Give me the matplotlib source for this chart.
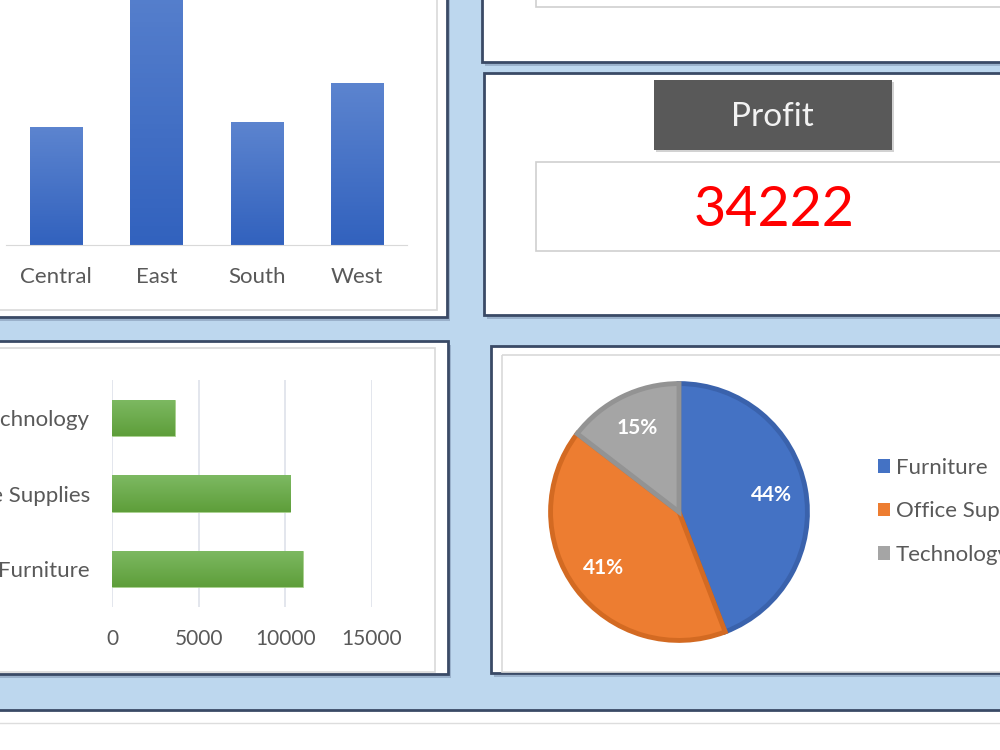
import numpy as np
import matplotlib
matplotlib.use("Agg")
import matplotlib.pyplot as plt
from matplotlib.patches import Rectangle
from matplotlib.colors import LinearSegmentedColormap

plt.rcParams['font.family'] = ['Lato', 'DejaVu Sans']

# data
regions = ["Central", "East", "South", "West"]
region_values = [4200, 10550, 4380, 5770]
categories = ["Furniture", "Office Supplies", "Technology"]
category_values = [11000, 10290, 3630]
profit_total = 34222

W, H = 1000, 750
BG = "#BDD7EE"
BORDER = "#3A4A66"
GRAY_TXT = "#595959"


def rect(x0, y0, x1, y1):
    # pixel box (top-left origin) -> figure fraction
    return [x0 / W, 1 - y1 / H, (x1 - x0) / W, (y1 - y0) / H]


def gradient_bars(ax, bars, top_color, bottom_color):
    cmap = LinearSegmentedColormap.from_list("g", [bottom_color, top_color])
    grad = np.linspace(0, 1, 64).reshape(-1, 1)
    for b in bars:
        x, y, w, h = b.get_x(), b.get_y(), b.get_width(), b.get_height()
        im = ax.imshow(grad, extent=[x, x + w, y, y + h], origin="lower",
                       cmap=cmap, aspect="auto", zorder=b.get_zorder() + 0.1)
        im.set_clip_path(b)


fig = plt.figure(figsize=(10, 7.5), dpi=100)
fig.patch.set_facecolor(BG)

bg = fig.add_axes([0, 0, 1, 1])
bg.set_xlim(0, W)
bg.set_ylim(H, 0)
bg.axis("off")


def panel(x0, y0, x1, y1):
    bg.add_patch(Rectangle((x0 + 3, y0 + 4), x1 - x0, y1 - y0, facecolor="#8399B5",
                           edgecolor="none", alpha=0.6))
    bg.add_patch(Rectangle((x0, y0), x1 - x0, y1 - y0, facecolor="white",
                           edgecolor=BORDER, lw=2))


def inner(x0, y0, x1, y1, ec="#D9D9D9"):
    bg.add_patch(Rectangle((x0, y0), x1 - x0, y1 - y0, facecolor="none",
                           edgecolor=ec, lw=1.2))


# panels
panel(-20, -20, 447, 317)
inner(-20, -20, 437, 310)
panel(482, -20, 1020, 62)
inner(536, -20, 1020, 7, ec="#CFCFCF")
panel(484, 73, 1020, 315)
panel(-20, 341, 448, 674)
inner(-20, 348, 435, 672)
panel(491, 346, 1020, 673)
inner(502, 355, 1020, 672)

# profit card
bg.add_patch(Rectangle((656, 82), 238, 70, facecolor="#BFBFBF", edgecolor="none", alpha=0.7))
bg.add_patch(Rectangle((654, 80), 238, 70, facecolor="#595959", edgecolor="none"))
bg.text(772, 117, "Profit", color="#F2F2F2", fontsize=24, ha="center", va="center")
bg.add_patch(Rectangle((536, 162), 480, 89, facecolor="white", edgecolor="#CFCFCF", lw=1.2))
bg.text(774, 210, str(profit_total), color="#FF0000", fontsize=40, ha="center", va="center")

# bottom strip
bg.add_patch(Rectangle((-10, 711), 1020, 50, facecolor="white", edgecolor="none"))
bg.plot([0, W], [710, 710], color=BORDER, lw=2)
bg.plot([0, W], [723, 723], color="#DDDDDD", lw=1)

# region column chart
ax1 = fig.add_axes(rect(6, -92, 407, 245))
bars1 = ax1.bar(regions, region_values, width=0.52, color="#4472C4", zorder=2)
gradient_bars(ax1, bars1, "#5C84CF", "#3262BE")
ax1.set_xlim(-0.5, 3.5)
ax1.set_ylim(0, 12000)
ax1.patch.set_alpha(0)
for s in ["top", "right", "left"]:
    ax1.spines[s].set_visible(False)
ax1.spines["bottom"].set_color("#D9D9D9")
ax1.set_yticks([])
ax1.tick_params(axis="x", length=0, pad=16, labelsize=16, labelcolor=GRAY_TXT)

# category bar chart
ax2 = fig.add_axes(rect(112, 380, 372, 607))
bars2 = ax2.barh(categories, category_values, height=0.48, color="#70AD47",
                 edgecolor="#A9D18E", lw=0.6, zorder=2)
gradient_bars(ax2, bars2, "#7DB962", "#5E9E3A")
ax2.set_xlim(0, 15000)
ax2.set_ylim(-0.5, 2.5)
ax2.set_xticks([0, 5000, 10000, 15000])
ax2.grid(axis="x", color="#DEE2EA", lw=1.2, zorder=0)
ax2.patch.set_alpha(0)
for s in ax2.spines.values():
    s.set_visible(False)
ax2.tick_params(axis="x", length=0, pad=16, labelsize=15, labelcolor=GRAY_TXT)
ax2.tick_params(axis="y", length=0, pad=16, labelsize=16, labelcolor=GRAY_TXT)

# pie
ax3 = fig.add_axes(rect(548, 381, 810, 643))
pie_colors = ["#4472C4", "#ED7D31", "#A5A5A5"]
edge_colors = ["#3A62AC", "#D36A22", "#939393"]
wedges, _, autotexts = ax3.pie(category_values, colors=pie_colors, startangle=90,
                               counterclock=False, autopct="%1.0f%%",
                               pctdistance=0.73, radius=1,
                               wedgeprops=dict(lw=3.5))
for w, ec in zip(wedges, edge_colors):
    w.set_edgecolor(ec)
for t in autotexts:
    t.set_color("white")
    t.set_fontsize(15)
    t.set_fontweight("bold")
ax3.set_xlim(-1.02, 1.02)
ax3.set_ylim(-1.02, 1.02)

leg = fig.legend(wedges, categories, loc="upper left",
                 bbox_to_anchor=(858 / W, 1 - 438 / H), frameon=False,
                 fontsize=16, labelcolor=GRAY_TXT, handlelength=0.55,
                 handleheight=0.55, handletextpad=0.25, labelspacing=1.05)
for h in leg.legend_handles:
    h.set_edgecolor("none")

fig.savefig("out.png", dpi=100, facecolor=fig.get_facecolor())
